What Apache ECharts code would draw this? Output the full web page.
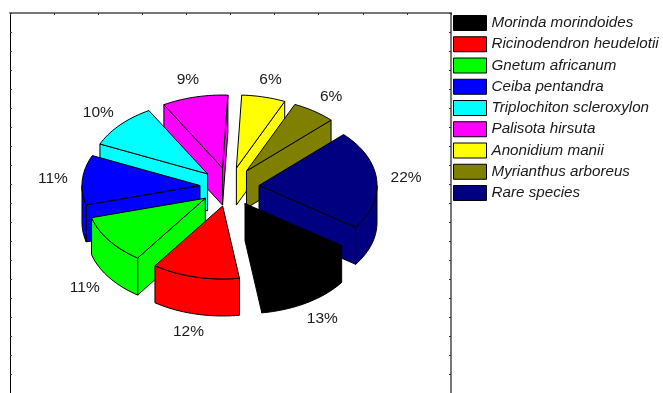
<!DOCTYPE html>
<html>
<head>
<meta charset="utf-8">
<style>html,body{margin:0;padding:0;background:#fff}#chart{width:663px;height:393px}</style>
<script src="https://cdn.jsdelivr.net/npm/echarts@6/dist/echarts.min.js"></script>
</head>
<body>
<div id="chart"></div>
<script>
// Share of each species in the stand, in percent.
const species = ['Morinda morindoides', 'Ricinodendron heudelotii', 'Gnetum africanum', 'Ceiba pentandra',
  'Triplochiton scleroxylon', 'Palisota hirsuta', 'Anonidium manii', 'Myrianthus arboreus', 'Rare species'];
const shares = [13, 12, 11, 11, 10, 9, 6, 6, 22];
const colors = ['#000000', '#ff0000', '#00ff00', '#0000ff', '#00ffff', '#ff00ff', '#ffff00', '#808000', '#000080'];

// Projection of the tilted, exploded pie.
const pie = { cx: 229.5, cy: 187, rx: 118, ry: 73, depth: 37, explodeX: 29.6, explodeY: 19.5, firstAngle: 35, labelFactor: 1.25 };
const total = shares.reduce((a, b) => a + b, 0);
const RAD = Math.PI / 180;

function sweep(index) {
  let start = pie.firstAngle;
  for (let i = 0; i < index; i++) start += shares[i] / total * 360;
  return [start, start + shares[index] / total * 360];
}

function arcPoints(ox, oy, from, to, dy) {
  const pts = [];
  const n = Math.max(2, Math.ceil((to - from) / 2));
  for (let i = 0; i <= n; i++) {
    const t = (from + (to - from) * i / n) * RAD;
    pts.push([ox + pie.rx * Math.cos(t), oy + pie.ry * Math.sin(t) + dy]);
  }
  return pts;
}

function renderSlice(index) {
  return function (params, api) {
    const [t0, t1] = sweep(index);
    const mid = (t0 + t1) / 2 * RAD;
    const ox = pie.cx + pie.explodeX * Math.cos(mid);
    const oy = pie.cy + pie.explodeY * Math.sin(mid);
    const z = 2000 + Math.round(Math.sin(mid) * 1000);
    const style = { fill: colors[index], stroke: '#000', lineWidth: 1, lineJoin: 'round' };
    const children = [];
    const poly = (points) => children.push({ type: 'polygon', shape: { points }, style, z2: z + children.length, silent: true });

    // radial faces that turn towards the viewer
    [t0, t1].forEach((t, k) => {
      const normal = (k === 0 ? t - 90 : t + 90) * RAD;
      if (Math.sin(normal) > 0) {
        const x = ox + pie.rx * Math.cos(t * RAD), y = oy + pie.ry * Math.sin(t * RAD);
        poly([[ox, oy], [x, y], [x, y + pie.depth], [ox, oy + pie.depth]]);
      }
    });
    // rim: only the near half of the ellipse is exposed
    [[0, 180], [360, 540]].forEach(([a, b]) => {
      const from = Math.max(t0, a), to = Math.min(t1, b);
      if (to > from) {
        poly(arcPoints(ox, oy, from, to, 0).concat(arcPoints(ox, oy, from, to, pie.depth).reverse()));
      }
    });
    // top surface
    poly([[ox, oy]].concat(arcPoints(ox, oy, t0, t1, 0)));

    // percentage label, pushed below the rim on the near side
    const lx = ox + pie.labelFactor * pie.rx * Math.cos(mid);
    const ly = oy + pie.labelFactor * pie.ry * Math.sin(mid) + (Math.sin(mid) > 0 ? pie.depth : 0);
    children.push({
      type: 'text', z2: 4000, silent: true,
      style: { text: api.value(0) + '%', x: lx, y: ly, align: 'center', verticalAlign: 'middle',
        font: '15.5px "Liberation Sans", Arial, sans-serif', fill: '#1a1a1a' }
    });
    return { type: 'group', children };
  };
}

const chart = echarts.init(document.getElementById('chart'), null, { renderer: 'canvas' });
const frameAxis = (extra) => Object.assign({
  type: 'value', min: 0, interval: 1, splitLine: { show: false }, axisLabel: { show: false },
  axisTick: { show: true, inside: true, length: 2, lineStyle: { color: '#333', width: 1 } }
}, extra);

chart.setOption({
  animation: false,
  backgroundColor: '#fff',
  color: colors,
  grid: { left: 10, top: 13, width: 441, height: 387, show: false },
  xAxis: [frameAxis({ max: 10, position: 'top', axisLine: { show: true, onZero: false, lineStyle: { color: '#777', width: 2 } } })],
  yAxis: [
    frameAxis({ max: 20, position: 'left', axisLine: { show: true, onZero: false, lineStyle: { color: '#000', width: 1 } } }),
    frameAxis({ max: 20, position: 'right', axisLine: { show: true, onZero: false, lineStyle: { color: '#777', width: 2 } } })
  ],
  legend: {
    orient: 'vertical', left: 453, top: 15, padding: 0,
    itemWidth: 33, itemHeight: 15, itemGap: 5.25, icon: 'rect', selectedMode: false,
    itemStyle: { borderColor: '#000', borderWidth: 1 },
    textStyle: { fontFamily: '"Liberation Sans", Arial, sans-serif', fontStyle: 'italic', fontSize: 15.2, lineHeight: 15, color: '#1a1a1a', padding: [0, 0, 0, 0] },
    data: species
  },
  series: species.map((name, i) => ({
    type: 'custom', name, coordinateSystem: 'none',
    itemStyle: { color: colors[i] },
    data: [[shares[i]]],
    renderItem: renderSlice(i)
  }))
});
</script>
</body>
</html>
